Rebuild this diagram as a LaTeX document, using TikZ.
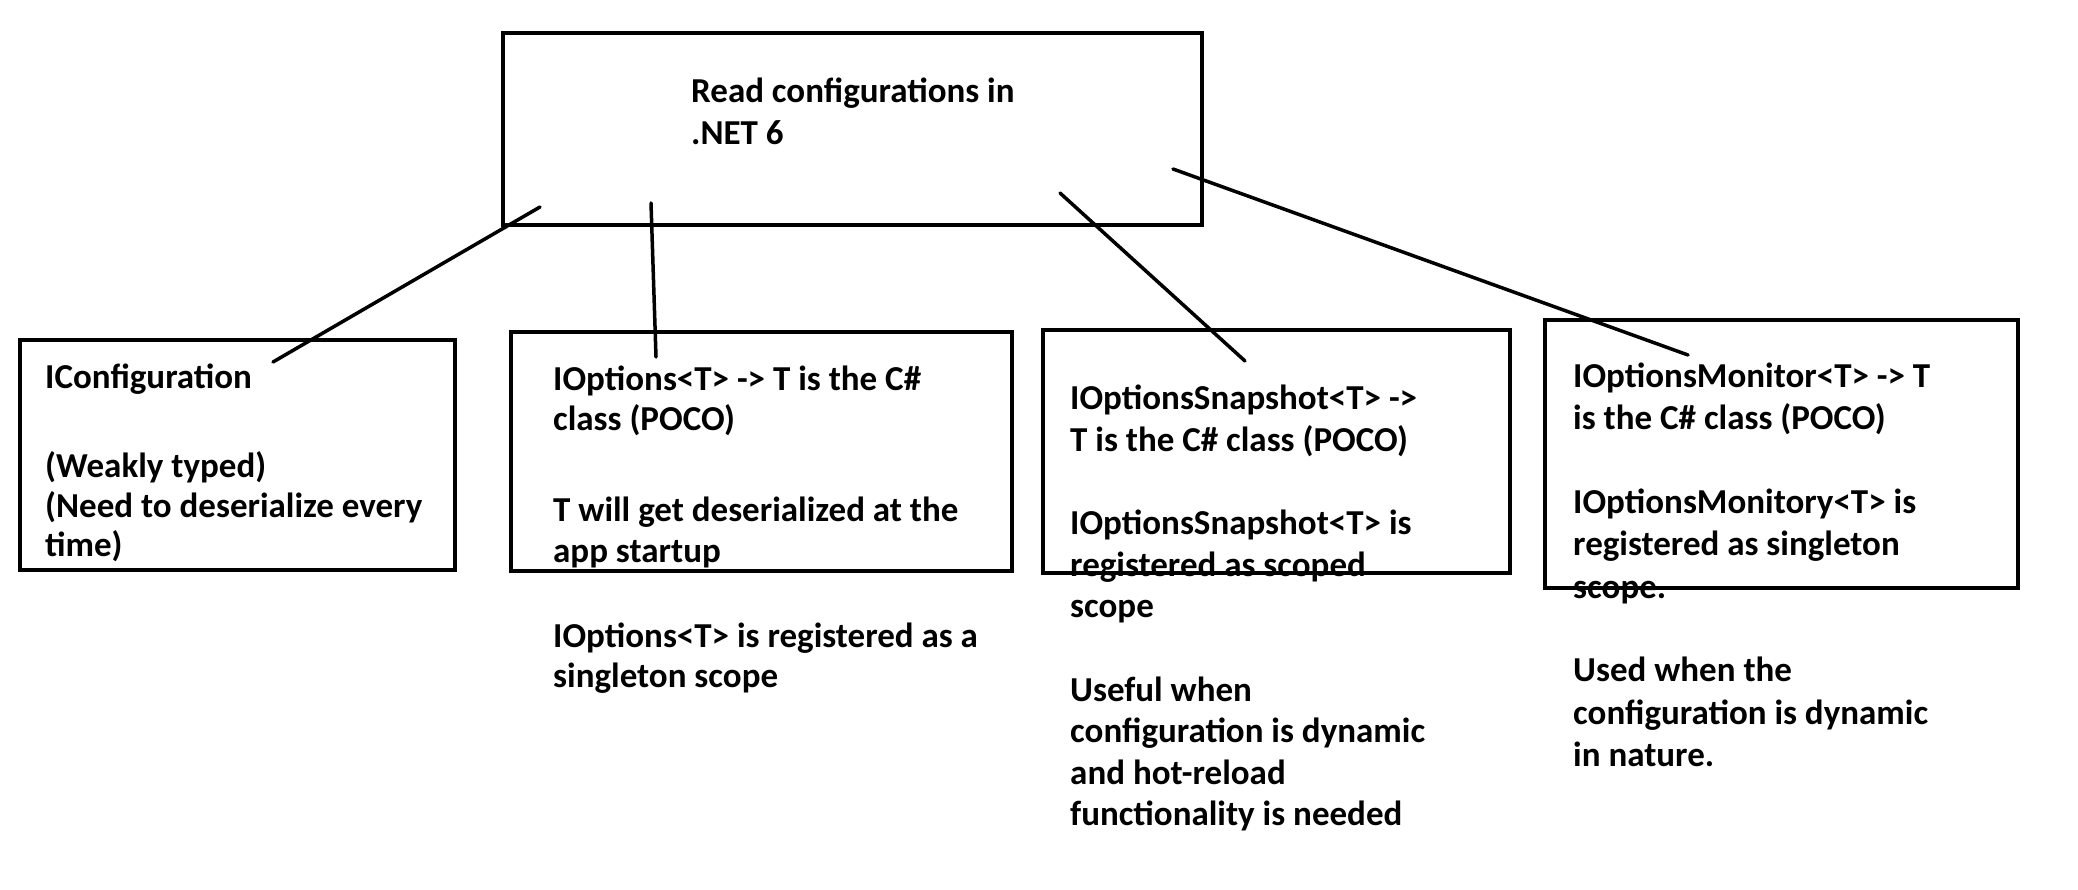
\documentclass[tikz,border=0pt]{standalone}
\usepackage{fontspec}
\setmainfont{Carlito}
\usetikzlibrary{positioning}

\tikzset{
    box/.style={draw, line width=4pt, inner sep=0pt, outer sep=0pt, anchor=north west},
    txt/.style={anchor=north west, align=left, inner sep=0pt, font=\bfseries\fontsize{35}{41.5}\selectfont,
        execute at begin node=\strut},
    link/.style={line width=3.5pt, line cap=round}
}

\begin{document}
\begin{tikzpicture}[x=1pt, y=-1pt]
                \useasboundingbox (0,0) rectangle (2078,890);
                % boxes
                \node[box, minimum width=699pt, minimum height=192pt] (read) at (503,33) {};
                \node[box, minimum width=435pt, minimum height=230pt] (config) at (20,340) {};
                \node[box, minimum width=501pt, minimum height=239pt] (options) at (511,332) {};
                \node[box, minimum width=467pt, minimum height=243pt] (snapshot) at (1043,330) {};
                \node[box, minimum width=473pt, minimum height=268pt] (monitor) at (1545,320) {};
                % texts (top = first baseline - strut height)
                \node[txt] (readtxt) at (691,78) {Read configurations in\\.NET 6};
                \node[txt, font=\bfseries\fontsize{35}{39.5}\selectfont] (configtxt) at (45,363.4) {IConfiguration\\[50pt]
                    (Weakly typed)\\(Need to deserialize every\\time)};
                \node[txt, font=\bfseries\fontsize{35}{40.5}\selectfont] (optionstxt) at (553,365.6) {IOptions<T> -> T is the C\#\\class (POCO)\\[50.5pt]
                    T will get deserialized at the\\app startup\\[44.5pt]
                    IOptions<T> is registered as a\\singleton scope};
                \node[txt] (snapshottxt) at (1070,385) {IOptionsSnapshot<T> ->\\T is the C\# class (POCO)\\[42pt]
                    IOptionsSnapshot<T> is\\registered as scoped\\scope\\[42pt]
                    Useful when\\configuration is dynamic\\and hot-reload\\functionality is needed};
                \node[txt, font=\bfseries\fontsize{35}{42.5}\selectfont] (monitortxt) at (1573,362.3) {IOptionsMonitor<T> -> T\\is the C\# class (POCO)\\[41pt]
                    IOptionsMonitory<T> is\\registered as singleton\\scope.\\[41pt]
                    Used when the\\configuration is dynamic\\in nature.};
                % connector ends
                \coordinate (r1) at (540,207);
                \coordinate (r2) at (651,203);
                \coordinate (r3) at (1060,193);
                \coordinate (r4) at (1173,169);
                \coordinate (c1) at (273,362);
                \coordinate (c2) at (656,357);
                \coordinate (c3) at (1245,361);
                \coordinate (c4) at (1688,355);
                \draw[link] (r1) -- (c1);
                \draw[link] (r2) -- (c2);
                \draw[link] (r3) -- (c3);
                \draw[link] (r4) -- (c4);
            \end{tikzpicture}
\end{document}
